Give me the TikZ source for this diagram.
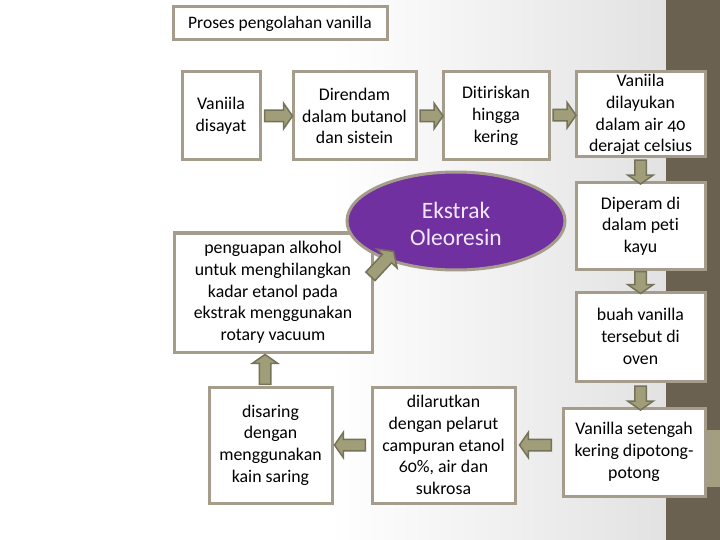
\documentclass[tikz,border=0pt]{standalone}
\usepackage{fontspec}
\setmainfont{Carlito}[Numbers=OldStyle, Ligatures=NoCommon]
\usetikzlibrary{shapes.geometric,shapes.arrows,calc}
\definecolor{boxborder}{HTML}{A59C8C}
\definecolor{arrowfill}{HTML}{A09E78}
\definecolor{arrowdraw}{HTML}{75725A}
\definecolor{strip}{HTML}{6B6150}
\definecolor{striptan}{HTML}{A39E80}
\definecolor{purp}{HTML}{7030A0}
\definecolor{lav}{HTML}{F3E8FF}
\definecolor{bgray}{HTML}{E2E2E2}
\begin{document}
\begin{tikzpicture}[x=1pt,y=-1pt,
  box/.style={draw=boxborder, line width=3pt, fill=white, align=center, inner sep=1pt,
    font=\fontsize{17.8}{21.7}\selectfont},
  barrow/.style={single arrow, draw=arrowdraw, fill=arrowfill, line width=1.5pt,
    single arrow head extend=7pt, single arrow tip angle=110,
    single arrow head indent=0pt, inner xsep=0pt, inner ysep=5pt}]
\useasboundingbox (0,0) rectangle (720,540);
\fill[white] (0,0) rectangle (720,540);
\shade[left color=white, right color=bgray] (330,0) rectangle (667,540);
\fill[strip] (666,0) rectangle (720,540);
\fill[striptan] (705,430) rectangle (720,487);

\node[box, minimum width=214pt, minimum height=33pt, font=\fontsize{17.5}{20}\selectfont] (title) at (280,23.5) {Proses pengolahan vanilla};

\node[box, minimum width=78pt, minimum height=88pt] (b1) at (221,116) {Vaniila\\disayat};
\node[box, minimum width=123pt, minimum height=88pt] (b2) at (354.5,116) {Direndam\\dalam butanol\\dan sistein};
\node[box, minimum width=106pt, minimum height=88pt] (b3) at (496,116) {Ditiriskan\\hingga\\kering};
\node[box, minimum width=129pt, minimum height=85pt] (b4) at (640.5,114.5) {Vaniila\\dilayukan\\dalam air 40\\derajat celsius};
\node[box, minimum width=129pt, minimum height=86pt] (b5) at (640.5,226) {Diperam di\\dalam peti\\kayu};
\node[box, minimum width=129pt, minimum height=89pt] (b6) at (640.5,336.5) {buah vanilla\\tersebut di\\oven};
\node[box, minimum width=142pt, minimum height=88pt] (b7) at (634,452) {Vanilla setengah\\kering dipotong-\\potong};
\node[box, minimum width=143pt, minimum height=116pt] (b8) at (443.5,445) {dilarutkan\\dengan pelarut\\campuran etanol\\60\%, air dan\\sukrosa};
\node[box, minimum width=123pt, minimum height=116pt] (b9) at (270.5,445) {disaring\\dengan\\menggunakan\\kain saring};
\node[box, minimum width=198pt, minimum height=119pt] (b10) at (273,292.5) {penguapan alkohol\\untuk menghilangkan\\kadar etanol pada\\ekstrak menggunakan\\rotary vacuum};
\node[ellipse, draw=boxborder, line width=3pt, fill=purp, minimum width=218pt, minimum height=98pt,
  text=lav, align=center, inner sep=0pt, font=\fontsize{23.5}{27}\selectfont] (ell) at (456,221) {\raisebox{-3pt}[\height][\depth]{\parbox{120pt}{\centering Ekstrak\\Oleoresin}}};

\node[barrow, minimum height=28pt] (a1) at ($(b1.east)!0.5!(b2.west)$) {};
\node[barrow, minimum height=23pt] (a2) at ($(b2.east)!0.5!(b3.west)$) {};
\node[barrow, minimum height=23pt] (a3) at ($(b3.east)!0.5!(b4.west)$) {};
\node[barrow, minimum height=24pt, rotate=-90] (a4) at ($(b4.south)!0.5!(b5.north)$) {};
\node[barrow, minimum height=22pt, rotate=-90] (a5) at ($(b5.south)!0.5!(b6.north)$) {};
\node[barrow, minimum height=24pt, rotate=-90] (a6) at ($(b6.south)+(0,13.5)$) {};
\node[barrow, minimum height=32pt, rotate=180] (a7) at ($(b8.east)+(21,0)$) {};
\node[barrow, minimum height=31pt, rotate=180] (a8) at ($(b8.west)!0.5!(b9.east)$) {};
\node[barrow, minimum height=30pt, rotate=90] (a9) at ($(b10.south)+(-8,18)$) {};
\node[barrow, minimum height=34pt, inner ysep=5.5pt, single arrow head extend=7.5pt, rotate=47] (a10) at ($(b10.east)+(7,-27)$) {};
\end{tikzpicture}
\end{document}
